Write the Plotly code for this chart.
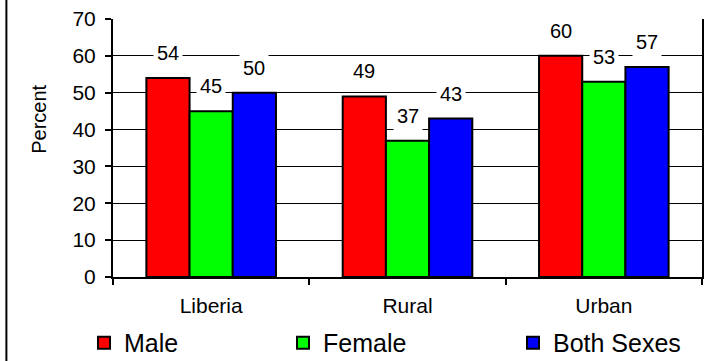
import plotly.graph_objects as go

categories = ["Liberia", "Rural", "Urban"]
series_names = ["Male", "Female", "Both Sexes"]
male = [54, 49, 60]
female = [45, 37, 53]
both_sexes = [50, 43, 57]
series_values = [male, female, both_sexes]
series_colors = ["#FF0000", "#00FF00", "#0000FF"]
y_ticks = [0, 10, 20, 30, 40, 50, 60, 70]
y_title = "Percent"

FONT = "Liberation Sans, Arial, sans-serif"
BARGAP = 0.34
W, H = 714, 361
M_L, M_R, M_T, M_B = 113, 12, 19, 84

fig = go.Figure()
legend_ids = ["legend", "legend2", "legend3"]
for name, vals, color, lg in zip(series_names, series_values, series_colors, legend_ids):
    fig.add_trace(go.Bar(
        x=categories, y=vals, name=name, showlegend=True,
        marker=dict(color=color, line=dict(color="black", width=2)),
        legend=lg,
    ))

# value labels above each bar, white boxes breaking the gridlines
n = len(series_values)
slot = (1 - BARGAP) / n
for j, vals in enumerate(series_values):
    for i, v in enumerate(vals):
        fig.add_annotation(
            x=i + (j - (n - 1) / 2) * slot, y=v, xref="x", yref="y",
            text=str(v), showarrow=False, yanchor="middle", yshift=25,
            bgcolor="white", borderpad=3,
            font=dict(family=FONT, size=20, color="black"),
        )

# y-axis title, sitting a little above the middle of the axis
fig.add_annotation(
    x=-0.127, y=0.61, xref="paper", yref="paper", text=y_title,
    textangle=-90, showarrow=False, xanchor="center", yanchor="middle",
    font=dict(family=FONT, size=20, color="black"),
)

# outer frame line on the left of the figure
fig.add_shape(type="line", xref="paper", yref="paper",
              x0=-0.181, x1=-0.181, y0=-0.33, y1=1.08,
              line=dict(color="black", width=2))

legend_common = dict(orientation="h", xref="container", yref="container",
                     yanchor="middle", y=0.05, xanchor="left",
                     font=dict(family=FONT, size=25, color="black"),
                     bgcolor="rgba(0,0,0,0)", borderwidth=0)
fig.update_layout(
    width=W, height=H,
    margin=dict(l=M_L, r=M_R, t=M_T, b=M_B, pad=0, autoexpand=False),
    paper_bgcolor="white", plot_bgcolor="white",
    showlegend=True,
    barmode="group", bargap=BARGAP, bargroupgap=0,
    font=dict(family=FONT, color="black"),
    legend=dict(x=84 / W, **legend_common),
    legend2=dict(x=283 / W, **legend_common),
    legend3=dict(x=513 / W, **legend_common),
    xaxis=dict(
        showline=True, linecolor="black", linewidth=2,
        ticks="outside", tickson="boundaries", ticklen=6, tickwidth=2, tickcolor="black",
        showgrid=False, ticklabelstandoff=9,
        tickfont=dict(family=FONT, size=21, color="black"),
    ),
    yaxis=dict(
        range=[0, 70], tickvals=y_ticks, ticktext=[str(t) for t in y_ticks],
        showline=True, linecolor="black", linewidth=2, mirror=True,
        ticks="outside", ticklen=6, tickwidth=2, tickcolor="black",
        showgrid=True, gridcolor="black", gridwidth=1, zeroline=False,
        ticklabelstandoff=5,
        tickfont=dict(family=FONT, size=21, color="black"),
    ),
)

fig.write_html("out.html")
